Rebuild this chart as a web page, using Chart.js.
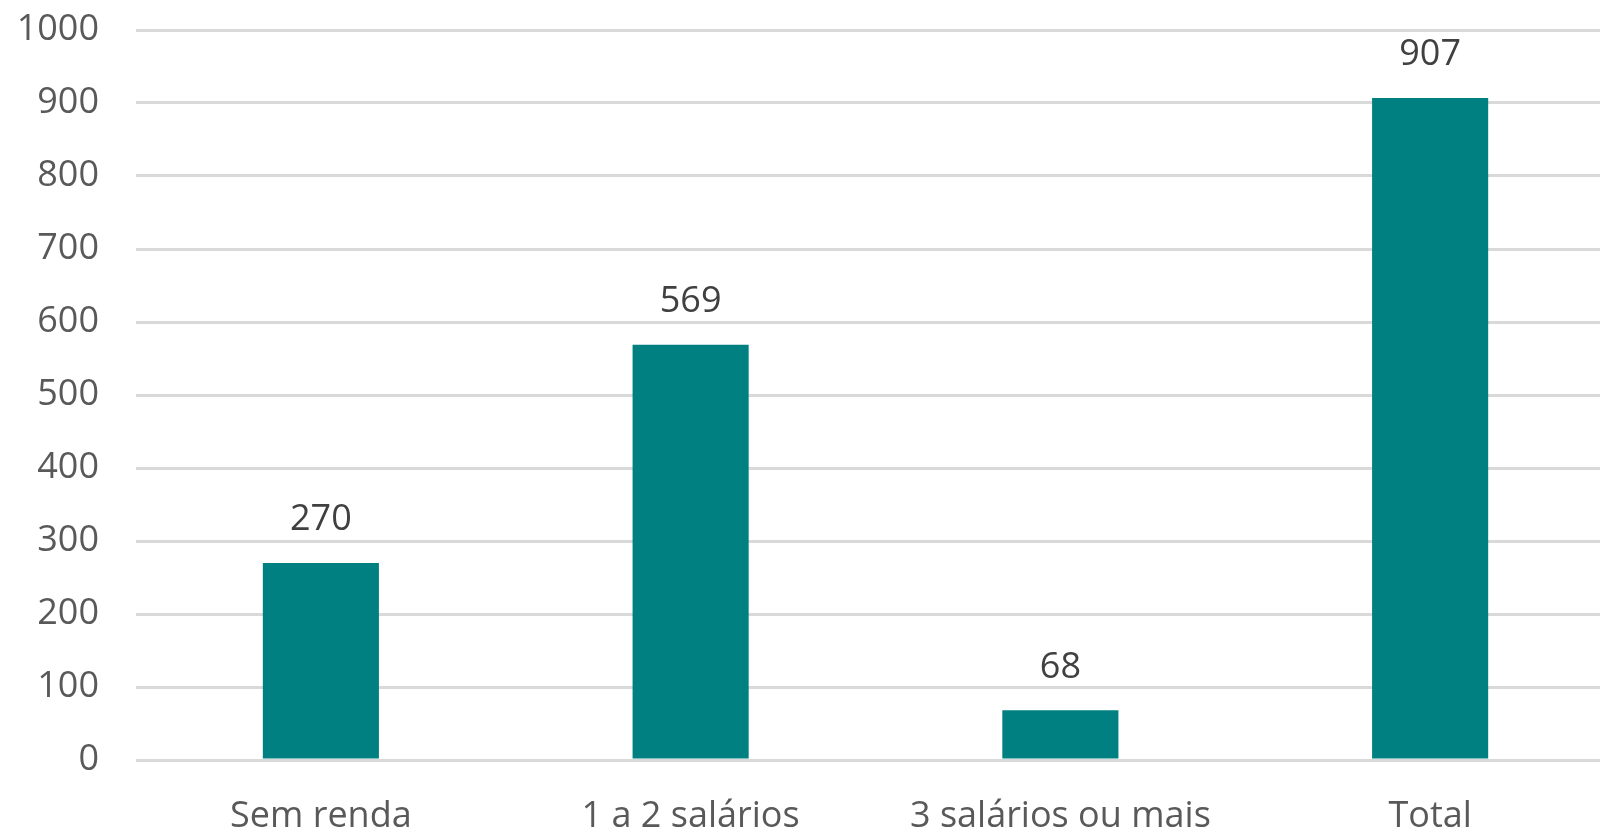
<!DOCTYPE html>
<html>
<head>
<meta charset="utf-8">
<script src="https://cdn.jsdelivr.net/npm/chart.js@4"></script>
<style>
  html, body { margin: 0; padding: 0; background: #fff; overflow: hidden; }
  canvas { display: block; }
</style>
</head>
<body>
<canvas id="bar-chart" width="1615" height="833"></canvas>
<script>
const categories = ["Sem renda", "1 a 2 salários", "3 salários ou mais", "Total"];
const values = [270, 569, 68, 907];
const yTicks = [0, 100, 200, 300, 400, 500, 600, 700, 800, 900, 1000];

const FONT = "'Open Sans', 'DejaVu Sans', sans-serif";

// value labels above the bars
const valueLabels = {
    id: 'valueLabels',
    afterDatasetsDraw(chart) {
        const ctx = chart.ctx;
        const meta = chart.getDatasetMeta(0);
        ctx.save();
        ctx.font = "36px " + FONT;
        ctx.fillStyle = "#404040";
        ctx.textAlign = "center";
        ctx.textBaseline = "middle";
        meta.data.forEach((bar, i) => {
            ctx.fillText(String(values[i]), bar.x, bar.y - 43);
        });
        ctx.restore();
    }
};

const barChart = document.getElementById("bar-chart").getContext("2d");

let chart = new Chart(barChart, {
    type: 'bar',
    data: {
        labels: categories,
        datasets: [{
            data: values,
            backgroundColor: "#008080",
            barPercentage: 0.314,
            categoryPercentage: 1
        }]
    },
    options: {
        responsive: false,
        devicePixelRatio: 1,
        animation: false,
        layout: {
            padding: 0
        },
        plugins: {
            legend: { display: false },
            tooltip: { enabled: false }
        },
        scales: {
            x: {
                grid: { display: false, drawTicks: false },
                border: { display: false },
                ticks: {
                    color: "#595959",
                    font: { family: FONT, size: 36 },
                    padding: 35,
                    maxRotation: 0
                },
                afterFit(axis) {
                    axis.height = 73;
                    axis.paddingLeft = 0;
                    axis.paddingRight = 0;
                }
            },
            y: {
                min: 0,
                max: 1000,
                afterBuildTicks(axis) {
                    axis.ticks = yTicks.map(v => ({ value: v }));
                },
                grid: { color: "#d9d9d9", lineWidth: 3, drawTicks: false },
                border: { display: false },
                ticks: {
                    color: "#595959",
                    font: { family: FONT, size: 36 },
                    padding: 37,
                    callback: v => String(v)
                },
                afterFit(axis) {
                    axis.width = 136;
                    axis.paddingTop = 30;
                    axis.paddingBottom = 0;
                }
            }
        }
    },
    plugins: [valueLabels]
});
</script>
</body>
</html>
